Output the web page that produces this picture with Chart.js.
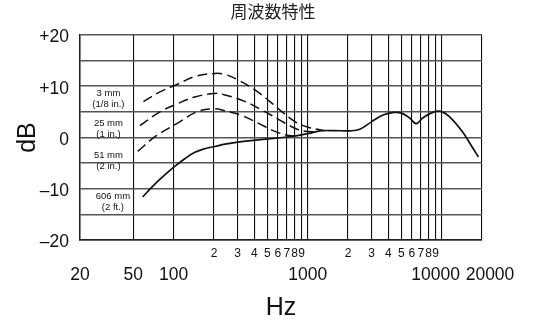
<!DOCTYPE html>
<html>
<head>
<meta charset="utf-8">
<script src="https://cdn.jsdelivr.net/npm/chart.js@4.4.0/dist/chart.umd.min.js"></script>
<style>
  body { margin: 0; background: #fff; }
  #caja { width: 546px; height: 323px; }
</style>
</head>
<body>
<div id="caja"><canvas id="grafico" width="546" height="323"></canvas></div>
<script>
const titulo = "周波数特性";

// lineas verticales de la grilla (Hz)
const lineasHz = [20, 50, 100, 200, 300, 400, 500, 600, 700, 800, 900, 1000,
  2000, 3000, 4000, 5000, 6000, 7000, 8000, 9000, 10000, 20000];
const etiquetasGrandes = [20, 50, 100, 1000, 10000, 20000];
const etiquetasChicas = [200, 300, 400, 500, 600, 700, 800, 900,
  2000, 3000, 4000, 5000, 6000, 7000, 8000, 9000];

// eje dB
const ticksDb = [-20, -15, -10, -5, 0, 5, 10, 15, 20];
const etiquetasDb = ["–20", "", "–10", "", "0", "", "+10", "", "+20"];

// curvas de respuesta segun distancia
const hz3mm = [59.5, 79, 107, 144, 203, 242, 303, 404, 524, 638, 803, 1007, 1190, 1340];
const db3mm = [7.0, 8.9, 10.4, 11.9, 12.5, 12.3, 11.2, 9.3, 7.0, 5.1, 3.1, 2.0, 1.6, 1.35];

const hz25mm = [56, 79, 107, 144, 203, 242, 342, 452, 601, 803, 970, 1150];
const db25mm = [2.3, 5.0, 6.6, 7.9, 8.6, 8.3, 7.0, 5.4, 3.6, 1.8, 1.2, 1.15];

const hz51mm = [54, 73, 107, 152, 203, 242, 322, 427, 571, 700, 800];
const db51mm = [-2.7, 0.2, 2.8, 5.1, 5.6, 5.2, 4.3, 2.8, 1.2, 0.45, 0.3];

const hz606mm = [58.6, 70, 81, 92, 107, 121, 144, 170, 203, 242, 300, 427, 600, 758, 877,
  1048, 1237, 1554, 2070, 2447, 3007, 3652, 4400, 5025, 5768, 6452, 7219, 8572, 9868,
  11370, 14200, 16800, 18800];
const db606mm = [-11.6, -9.5, -7.9, -6.6, -5.2, -4.15, -2.9, -2.2, -1.75, -1.3, -0.9, -0.45,
  -0.1, 0.2, 0.45, 0.85, 1.3, 1.35, 1.3, 1.6, 3.1, 4.4, 4.9, 4.75, 3.8, 2.7, 3.8, 4.9, 5.1,
  4.1, 1.2, -1.75, -3.8];

const notas = [["3 mm", "(1/8 in.)"], ["25 mm", "(1 in.)"], ["51 mm", "(2 in.)"], ["606 mm", "(2 ft.)"]];

const fuente = '"Liberation Sans", Arial, sans-serif';

function serie(hz, db, guiones) {
  return {
    data: hz.map((f, i) => ({ x: f, y: db[i] })),
    showLine: true,
    borderColor: "#111",
    borderWidth: guiones.length ? 1.5 : 1.7,
    borderDash: guiones,
    tension: 0.4,
    pointRadius: 0,
    fill: false
  };
}

// textos que chart.js no pone solo: titulo, numeros del eje x y notas de las curvas
const textos = {
  id: "textos",
  afterDraw(chart) {
    const { ctx } = chart;
    const x = chart.scales.x;
    const y = chart.scales.y;
    ctx.save();
    ctx.textAlign = "center";
    ctx.textBaseline = "middle";
    ctx.fillStyle = "#222";
    ctx.font = '17px "Noto Sans CJK JP", sans-serif';
    ctx.fillText(titulo, chart.width / 2, 12);

    ctx.fillStyle = "#111";
    ctx.font = "12px " + fuente;
    etiquetasChicas.forEach(v => {
      const d = Math.round(v / Math.pow(10, Math.floor(Math.log10(v))));
      ctx.fillText(String(d), x.getPixelForValue(v), y.bottom + 13.5);
    });

    ctx.font = "17.5px " + fuente;
    const corrido = { 10000: -6, 20000: 8 };
    etiquetasGrandes.forEach(v => {
      ctx.fillText(String(v), x.getPixelForValue(v) + (corrido[v] || 0), y.bottom + 35);
    });

    // notas a la izquierda de cada curva
    const notaHz = [32.6, 32.6, 32.6, 35.2];
    const notaDb = [7.6, 1.6, -4.6, -12.6];
    ctx.font = "9.5px " + fuente;
    notas.forEach((n, i) => {
      const px = x.getPixelForValue(notaHz[i]);
      const py = y.getPixelForValue(notaDb[i]);
      ctx.fillText(n[0], px, py - 5.5);
      ctx.fillText(n[1], px, py + 5.5);
    });
    ctx.restore();
  }
};

new Chart(document.getElementById("grafico"), {
  type: "scatter",
  data: {
    datasets: [
      serie(hz3mm, db3mm, [10, 5]),
      serie(hz25mm, db25mm, [10, 5]),
      serie(hz51mm, db51mm, [10, 5]),
      serie(hz606mm, db606mm, [])
    ]
  },
  options: {
    responsive: false,
    animation: false,
    events: [],
    layout: { padding: { left: 0, right: 64, top: 35, bottom: 0 } },
    plugins: { legend: { display: false }, tooltip: { enabled: false } },
    scales: {
      x: {
        type: "logarithmic",
        min: 20,
        max: 20000,
        afterBuildTicks: s => { s.ticks = lineasHz.map(v => ({ value: v })); },
        afterFit: s => { s.height = 83; },
        ticks: { display: false },
        grid: { color: "#111", lineWidth: 1.1, drawTicks: false },
        border: { color: "#222", width: 1.5 },
        title: { display: true, text: "Hz", color: "#111", font: { family: fuente, size: 25 }, padding: 0 }
      },
      y: {
        min: -20,
        max: 20,
        afterBuildTicks: s => { s.ticks = ticksDb.map(v => ({ value: v })); },
        afterFit: s => { s.width = 80; },
        ticks: {
          callback: (v, i) => etiquetasDb[i],
          color: "#111",
          font: { family: fuente, size: 17.5 },
          padding: 11,
          labelOffset: 2.5
        },
        grid: { color: "#555", lineWidth: 1.6, drawTicks: false },
        border: { color: "#222", width: 1.5 },
        title: { display: true, text: "dB", color: "#111", font: { family: fuente, size: 25 }, padding: { top: 13, bottom: 0 } }
      }
    }
  },
  plugins: [textos]
});
</script>
</body>
</html>
